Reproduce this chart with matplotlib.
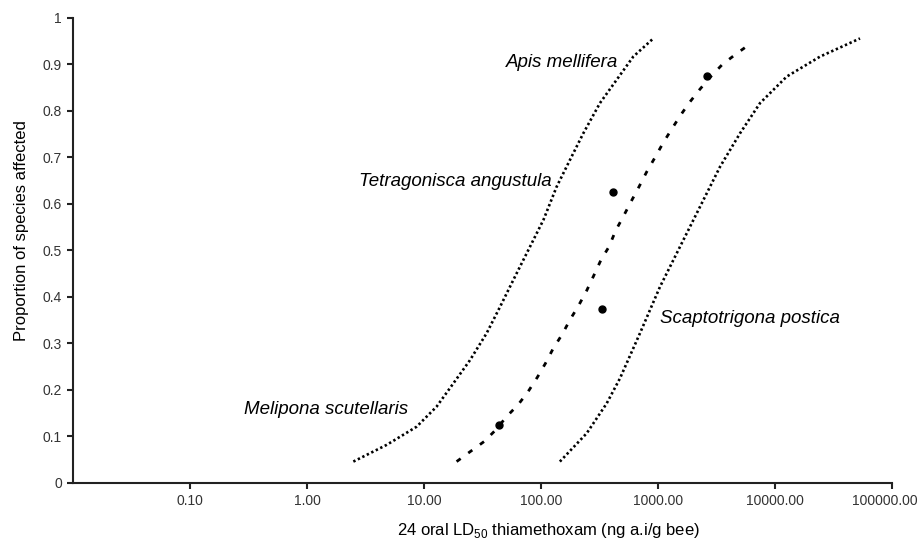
import matplotlib
matplotlib.use("Agg")
import matplotlib.pyplot as plt
import matplotlib.transforms as mtransforms
from matplotlib.ticker import FixedLocator, NullLocator

plt.rcParams['font.family'] = ['Liberation Sans', 'DejaVu Sans']

# Fitted SSD (dashed)
fit_x = [19.0, 24.7, 32.6, 41, 50.9, 63.6, 77.4, 92.9, 109, 127, 152, 177, 209, 246,
         280, 326, 381, 435, 505, 588, 688, 800, 942, 1110, 1309, 1541, 1840, 2285,
         2800, 3545, 4610, 6110]
fit_y = [0.046, 0.067, 0.089, 0.114, 0.143, 0.168, 0.196, 0.227, 0.257, 0.289, 0.320,
         0.351, 0.381, 0.414, 0.444, 0.480, 0.508, 0.543, 0.573, 0.605, 0.637, 0.669,
         0.700, 0.732, 0.761, 0.789, 0.817, 0.847, 0.873, 0.900, 0.922, 0.944]

# Lower confidence bound (left dotted)
low_x = [2.49, 4.80, 8.65, 12.8, 17.8, 24.7, 34.3, 44.7, 60, 80.5, 105, 136, 177, 230,
         319, 443, 615, 912]
low_y = [0.046, 0.082, 0.121, 0.164, 0.214, 0.264, 0.322, 0.379, 0.444, 0.508, 0.566,
         0.637, 0.695, 0.752, 0.817, 0.867, 0.917, 0.956]

# Upper confidence bound (right dotted)
up_x = [145, 246, 364, 473, 701, 1040, 1541, 2285, 3388, 5023, 7447, 12590, 24270, 53250]
up_y = [0.046, 0.107, 0.171, 0.225, 0.322, 0.422, 0.508, 0.594, 0.680, 0.752, 0.817,
        0.874, 0.917, 0.956]

# Species LD50 points
species = ["Melipona scutellaris", "Scaptotrigona postica", "Tetragonisca angustula", "Apis mellifera"]
ld50 = [43.7, 332, 410, 2637]
prop = [0.125, 0.375, 0.625, 0.875]

xticks = [0.1, 1, 10, 100, 1000, 10000, 100000]
xticklabels = ["0.10", "1.00", "10.00", "100.00", "1000.00", "10000.00", "100000.00"]
yticks = [0, 0.1, 0.2, 0.3, 0.4, 0.5, 0.6, 0.7, 0.8, 0.9, 1]
yticklabels = ["0", "0.1", "0.2", "0.3", "0.4", "0.5", "0.6", "0.7", "0.8", "0.9", "1"]

fig = plt.figure(figsize=(9.2, 5.4), dpi=100)
ax = fig.add_axes([0.0793, 0.1056, 0.8903, 0.8611])

ax.plot(low_x, low_y, color='black', lw=1.9, linestyle=(0, (0.9, 1.0)))
ax.plot(up_x, up_y, color='black', lw=1.9, linestyle=(0, (0.9, 1.0)))
ax.plot(fit_x, fit_y, color='black', lw=2.0, linestyle=(0, (1.8, 3.4)))
ax.plot(ld50, prop, 'o', color='black', markersize=5)

ax.set_xscale('log')
ax.set_xlim(0.01, 100000)
ax.set_ylim(0, 1)
ax.xaxis.set_major_locator(FixedLocator(xticks))
ax.xaxis.set_minor_locator(NullLocator())
ax.set_xticklabels(xticklabels)
ax.set_yticks(yticks)
ax.set_yticklabels(yticklabels)

for s in ['top', 'right']:
    ax.spines[s].set_visible(False)
for s in ['left', 'bottom']:
    ax.spines[s].set_linewidth(1.5)
    ax.spines[s].set_color('#222222')
ax.tick_params(axis='both', direction='out', length=4, width=1.5, labelsize=10,
               colors='#222222', pad=4)
for lbl in ax.get_yticklabels():
    lbl.set_color('#333333')
for lbl in ax.get_xticklabels():
    lbl.set_color('#333333')

# nudge the last x tick label left so it stays inside the figure
last = ax.get_xticklabels()[-1]
last.set_transform(last.get_transform() + mtransforms.ScaledTranslation(-7 / 100, 0, fig.dpi_scale_trans))

fs = 13.5
ax.text(455, 0.905, "Apis mellifera", style='italic', fontsize=fs, ha='right', va='center')
ax.text(123, 0.648, "Tetragonisca angustula", style='italic', fontsize=fs, ha='right', va='center')
ax.text(7.35, 0.157, "Melipona scutellaris", style='italic', fontsize=fs, ha='right', va='center')
ax.text(1040, 0.354, "Scaptotrigona postica", style='italic', fontsize=fs, ha='left', va='center')

ax.set_xlabel("24 oral LD$_{\\mathregular{50}}$ thiamethoxam (ng a.i/g bee)", fontsize=12,
              labelpad=9, x=0.58)
ax.set_ylabel("Proportion of species affected", fontsize=12, labelpad=10, y=0.542)

fig.savefig("out.png", dpi=100)
